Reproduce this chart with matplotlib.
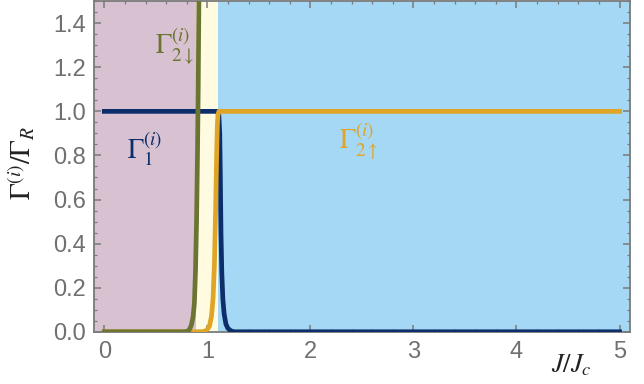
import matplotlib
matplotlib.use("Agg")
import matplotlib.pyplot as plt
from matplotlib.ticker import MultipleLocator, FormatStrFormatter

plt.rcParams['mathtext.fontset'] = 'stix'
plt.rcParams['font.family'] = ['Liberation Sans', 'DejaVu Sans']

# curves (J/Jc, Gamma/Gamma_R)
j_down = [0.0, 0.78, 0.82, 0.845, 0.862, 0.874, 0.885, 0.895, 0.904, 0.911, 0.916, 0.921]
g_down = [0.0, 0.0, 0.005, 0.03, 0.07, 0.13, 0.28, 0.5, 0.8, 1.1, 1.4, 1.7]

j_up = [0.0, 0.95, 0.99, 1.02, 1.04, 1.055, 1.068, 1.08, 1.09, 1.097, 1.103, 1.112, 5.0]
g_up = [0.0, 0.0, 0.005, 0.025, 0.07, 0.15, 0.3, 0.55, 0.8, 0.94, 0.985, 1.0, 1.0]

j_one = [0.0, 1.095, 1.112, 1.12, 1.126, 1.132, 1.14, 1.15, 1.163, 1.18, 1.2, 1.23, 1.26, 5.0]
g_one = [1.0, 1.0, 0.98, 0.9, 0.7, 0.45, 0.27, 0.15, 0.08, 0.035, 0.015, 0.004, 0.0, 0.0]

# phase regions
region_edges = [-0.1, 0.89, 1.105, 5.1]
region_colors = ['#d8c1d1', '#fffbe1', '#a5d8f5']

c_one = '#0c2f6b'
c_up = '#e0a426'
c_down = '#6b7431'

fig = plt.figure(figsize=(6.44, 3.84), dpi=100)
ax = fig.add_axes([0.146, 0.136, 0.832, 0.861])

for i in range(3):
    ax.axvspan(region_edges[i], region_edges[i + 1], color=region_colors[i], lw=0, zorder=0)

ax.plot(j_one, g_one, color=c_one, lw=3.4, zorder=3)
ax.plot(j_up, g_up, color=c_up, lw=3.4, zorder=4)
ax.plot(j_down, g_down, color=c_down, lw=3.4, zorder=5)

ax.text(0.68, 1.30, r'$\Gamma_{2\downarrow}^{(i)}$', color=c_down, fontsize=19.5, ha='center', va='center')
ax.text(0.39, 0.83, r'$\Gamma_{1}^{(i)}$', color=c_one, fontsize=19.5, ha='center', va='center')
ax.text(2.47, 0.865, r'$\Gamma_{2\uparrow}^{(i)}$', color=c_up, fontsize=19.5, ha='center', va='center')

ax.set_xlim(-0.1, 5.1)
ax.set_ylim(0, 1.5)
ax.xaxis.set_major_locator(MultipleLocator(1))
ax.xaxis.set_minor_locator(MultipleLocator(0.2))
ax.yaxis.set_major_locator(MultipleLocator(0.2))
ax.yaxis.set_minor_locator(MultipleLocator(0.05))
ax.yaxis.set_major_formatter(FormatStrFormatter('%.1f'))

gray = '#7a7a7a'
for s in ax.spines.values():
    s.set_color(gray)
    s.set_linewidth(1.3)
ax.tick_params(which='both', direction='in', top=True, right=True, colors=gray,
               labelcolor='#707070', labelsize=17)
ax.tick_params(which='major', length=5, width=1.1)
ax.tick_params(which='minor', length=2.5, width=0.9)
ax.tick_params(axis='x', pad=7)
ax.tick_params(axis='y', pad=6)

ax.set_xlabel(r'$J/J_c$', fontsize=19, color='#222222')
ax.xaxis.set_label_coords(0.89, -0.061)
ax.set_ylabel(r'$\Gamma^{(i)}/\Gamma_R$', fontsize=20, color='#222222')
ax.yaxis.set_label_coords(-0.105, 0.51)

fig.savefig('out.png', dpi=100)
